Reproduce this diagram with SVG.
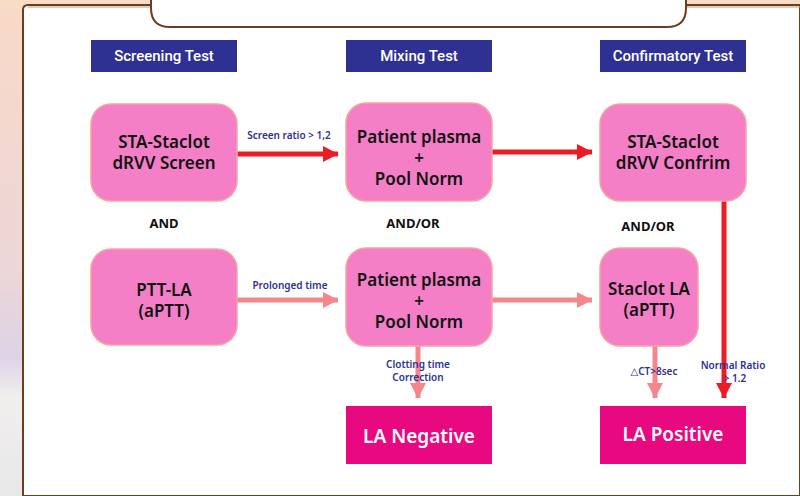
<svg xmlns="http://www.w3.org/2000/svg" width="800" height="496" viewBox="0 0 800 496">
<style>
.hdr{fill:#2e3192}
.hdrt{fill:#fff;font-family:"Roboto","Noto Sans",sans-serif;font-size:15px;font-weight:500;text-anchor:middle}
.node{fill:#f47fc6;stroke:#f7a3a0;stroke-width:1.5}
.nt{fill:#111;font-family:"Noto Sans","DejaVu Sans",sans-serif;font-size:17px;font-weight:600;text-anchor:middle}
.res{fill:#e8087f}
.rt{fill:#fff;font-family:"Noto Sans","DejaVu Sans",sans-serif;font-size:19px;font-weight:600;text-anchor:middle}
.lbl{fill:#2e3192;font-family:"Noto Sans","DejaVu Sans",sans-serif;font-size:10px;font-weight:600;text-anchor:middle}
.and{fill:#111;font-family:"Noto Sans","DejaVu Sans",sans-serif;font-size:13px;font-weight:bold;text-anchor:middle}
.red{stroke:#ec1c24;stroke-width:5;fill:none}
.pink{stroke:#f4878b;stroke-width:5;fill:none}
</style>
<defs>
<linearGradient id="side" x1="0" y1="0" x2="0" y2="1">
<stop offset="0" stop-color="#f9d9c6"/>
<stop offset="0.55" stop-color="#ecd6d8"/>
<stop offset="0.72" stop-color="#ddd3e6"/>
<stop offset="0.8" stop-color="#f1eeee"/>
<stop offset="1" stop-color="#e8e8e8"/>
</linearGradient>
<marker id="ar" markerWidth="4" markerHeight="4" refX="3" refY="1.8" orient="auto" markerUnits="strokeWidth">
<path d="M0,0.2 L3.1,1.8 L0,3.4 Z" fill="#ec1c24"/>
</marker>
<marker id="ap" markerWidth="4" markerHeight="4" refX="3" refY="1.8" orient="auto" markerUnits="strokeWidth">
<path d="M0,0.2 L3.1,1.8 L0,3.4 Z" fill="#f4878b"/>
</marker>
</defs>
<g id="background">
<rect x="0" y="0" width="800" height="496" fill="url(#side)"/>
<rect x="0" y="0" width="800" height="8" fill="#f9dcc6"/>
<path d="M23,496 L23,10 Q23,5 28,5 L800,5 L800,496 Z" fill="#fff" stroke="#6b3f1d" stroke-width="2"/>
<line x1="28" y1="7" x2="800" y2="7" stroke="#c79a74" stroke-width="1"/>
<path d="M151,-2 L151,8 Q151,27 170,27 L667,27 Q686,27 686,8 L686,-2" fill="#fff" stroke="#6b3f1d" stroke-width="2"/>
</g>
<g id="headers">
<rect class="hdr" x="91" y="40" width="146" height="32"/>
<text class="hdrt" x="164" y="61">Screening Test</text>
<rect class="hdr" x="346" y="40" width="146" height="32"/>
<text class="hdrt" x="419" y="61">Mixing Test</text>
<rect class="hdr" x="600" y="40" width="146" height="32"/>
<text class="hdrt" x="673" y="61">Confirmatory Test</text>
</g>
<g id="connectors">
<line class="red" x1="237" y1="154" x2="338" y2="154" marker-end="url(#ar)"/>
<line class="red" x1="492" y1="152" x2="592" y2="152" marker-end="url(#ar)"/>
<line class="red" x1="724" y1="201" x2="724" y2="398" marker-end="url(#ar)"/>
<line class="pink" x1="237" y1="300" x2="338" y2="300" marker-end="url(#ap)"/>
<line class="pink" x1="492" y1="300" x2="592" y2="300" marker-end="url(#ap)"/>
<line class="pink" x1="418" y1="346" x2="418" y2="398" marker-end="url(#ap)"/>
<line class="pink" x1="655" y1="346" x2="655" y2="398" marker-end="url(#ap)"/>
<text class="lbl" x="289" y="139">Screen ratio &gt; 1,2</text>
<text class="lbl" x="290" y="289">Prolonged time</text>
<text class="lbl" x="418" y="368">Clotting time</text>
<text class="lbl" x="418" y="381">Correction</text>
<text class="lbl" x="654" y="375">△CT&gt;8sec</text>
<text class="lbl" x="733" y="369">Normal Ratio</text>
<text class="lbl" x="735" y="382">&gt; 1.2</text>
</g>
<g id="and-labels">
<text class="and" x="164" y="228">AND</text>
<text class="and" x="413" y="228">AND/OR</text>
<text class="and" x="648" y="231">AND/OR</text>
</g>
<g id="n-drvv-screen">
<rect class="node" x="91" y="104" width="146" height="97" rx="20"/>
<text class="nt" x="164" y="148">STA-Staclot</text>
<text class="nt" x="164" y="169">dRVV Screen</text>
</g>
<g id="n-mix-top">
<rect class="node" x="346" y="103" width="146" height="98" rx="20"/>
<text class="nt" x="419" y="143">Patient plasma</text>
<text class="nt" x="419" y="164">+</text>
<text class="nt" x="419" y="185">Pool Norm</text>
</g>
<g id="n-drvv-confirm">
<rect class="node" x="600" y="104" width="146" height="97" rx="20"/>
<text class="nt" x="673" y="148">STA-Staclot</text>
<text class="nt" x="673" y="169">dRVV Confrim</text>
</g>
<g id="n-ptt-la">
<rect class="node" x="91" y="249" width="146" height="96" rx="20"/>
<text class="nt" x="164" y="296">PTT-LA</text>
<text class="nt" x="164" y="317">(aPTT)</text>
</g>
<g id="n-mix-bottom">
<rect class="node" x="346" y="248" width="146" height="98" rx="20"/>
<text class="nt" x="419" y="286">Patient plasma</text>
<text class="nt" x="419" y="307">+</text>
<text class="nt" x="419" y="328">Pool Norm</text>
</g>
<g id="n-staclot-la">
<rect class="node" x="600" y="248" width="98" height="98" rx="20"/>
<text class="nt" x="649" y="295">Staclot LA</text>
<text class="nt" x="649" y="316">(aPTT)</text>
</g>
<g id="n-la-negative">
<rect class="res" x="346" y="406" width="146" height="58"/>
<text class="rt" x="419" y="443">LA Negative</text>
</g>
<g id="n-la-positive">
<rect class="res" x="600" y="406" width="146" height="58"/>
<text class="rt" x="673" y="441">LA Positive</text>
</g>
</svg>
